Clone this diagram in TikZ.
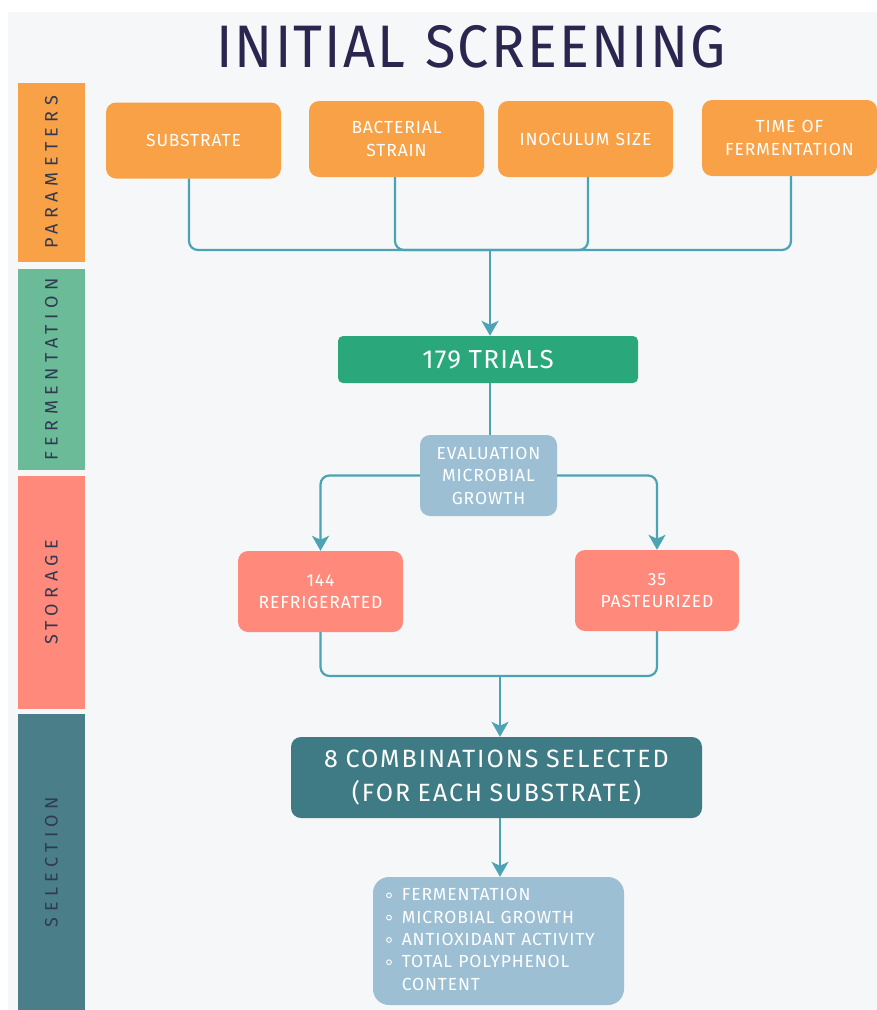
\documentclass[tikz,border=0pt]{standalone}
\usepackage{fontspec}
\setmainfont{Fira Sans}
\usetikzlibrary{arrows.meta}
\definecolor{bg}{HTML}{F6F7F8}
\definecolor{orangebox}{HTML}{F8A146}
\definecolor{greenbar}{HTML}{6CBB98}
\definecolor{greenbox}{HTML}{2AA87C}
\definecolor{salmon}{HTML}{FF8A7C}
\definecolor{tealbox}{HTML}{3F7B84}
\definecolor{tealbar}{HTML}{4A7F89}
\definecolor{lightblue}{HTML}{9CBFD4}
\definecolor{linecol}{HTML}{4BA3B3}
\definecolor{sidetext}{HTML}{2F3A52}
\definecolor{titlecol}{HTML}{2A2650}
\newcommand\mybul{\tikz[baseline=-0.6ex]\draw[white,line width=0.9pt](0,0)circle(2.4pt);}
\tikzset{
  sidebar/.style={rotate=90,minimum height=67pt,inner sep=0pt,text=sidetext,font=\fontsize{18}{20}\selectfont\addfontfeatures{LetterSpace=30}},
  box/.style={rounded corners=10pt,inner sep=0pt,text=white,align=center,font=\fontsize{17.5}{22.5}\selectfont\addfontfeatures{LetterSpace=5}},
  conn/.style={draw=linecol,line width=2.2pt,rounded corners=9pt},
  arr/.style={conn,-{Stealth[length=15pt,width=17pt,inset=4pt]}}
}
\begin{document}
\begin{tikzpicture}[x=1pt,y=-1pt]
\useasboundingbox (0,0) rectangle (877,1010);
\fill[white] (0,0) rectangle (877,1010);
\fill[bg] (8,12) rectangle (877,1010);
% title
\node[text=titlecol,font=\fontsize{60}{66}\selectfont\addfontfeatures{LetterSpace=4},xscale=0.93] (title) at (471,47) {INITIAL\hspace{0.35em}SCREENING};
% side bars
\node[sidebar,fill=orangebox,minimum width=179pt] (pbar) at (51.5,172.5) {PARAMETERS};
\node[sidebar,fill=greenbar,minimum width=201pt] (fbar) at (51.5,369.5) {FERMENTATION};
\node[sidebar,fill=salmon,minimum width=233pt] (sbar) at (51.5,592.5) {STORAGE};
\node[sidebar,fill=tealbar,minimum width=296pt] (selbar) at (51.5,862) {SELECTION};
% parameter boxes
\node[box,fill=orangebox,minimum width=175pt,minimum height=76pt] (sub) at (193.5,140.5) {SUBSTRATE};
\node[box,fill=orangebox,minimum width=175pt,minimum height=76pt] (bac) at (396.5,139) {BACTERIAL\\STRAIN};
\node[box,fill=orangebox,minimum width=175pt,minimum height=76pt] (ino) at (585.5,139) {INOCULUM\hspace{0.35em}SIZE};
\node[box,fill=orangebox,minimum width=175pt,minimum height=76pt] (time) at (789.5,138) {TIME\hspace{0.35em}OF\\FERMENTATION};
% trials
\node[box,fill=greenbox,rounded corners=5pt,minimum width=300pt,minimum height=47pt,font=\fontsize{26}{30}\selectfont\addfontfeatures{LetterSpace=5}] (trials) at (488,359.5) {179\hspace{0.3em}TRIALS};
% evaluation
\node[box,fill=lightblue,minimum width=137pt,minimum height=81pt] (eval) at (488.5,475.5) {EVALUATION\\MICROBIAL\\GROWTH};
% storage
\node[box,fill=salmon,minimum width=165pt,minimum height=81pt] (refr) at (320.5,591.5) {144\\REFRIGERATED};
\node[box,fill=salmon,minimum width=164pt,minimum height=81pt] (past) at (657,590.5) {35\\PASTEURIZED};
% selection
\node[box,fill=tealbox,minimum width=411pt,minimum height=81pt,font=\fontsize{25}{34}\selectfont\addfontfeatures{LetterSpace=8}] (comb) at (496.5,777.5) {8\hspace{0.3em}COMBINATIONS\hspace{0.3em}SELECTED\\(FOR\hspace{0.3em}EACH\hspace{0.3em}SUBSTRATE)};
\node[box,fill=lightblue,rounded corners=16pt,minimum width=251pt,minimum height=128pt,align=left,font=\fontsize{17.5}{22.3}\selectfont\addfontfeatures{LetterSpace=5}] (list) at (498.5,941) {\begin{tabular}{@{}l@{\hspace{10pt}}l@{}}
\mybul & FERMENTATION\\
\mybul & MICROBIAL\hspace{0.35em}GROWTH\\
\mybul & ANTIOXIDANT\hspace{0.35em}ACTIVITY\\
\mybul & TOTAL\hspace{0.35em}POLYPHENOL\\
 & CONTENT
\end{tabular}\hspace{16pt}};
% connectors
\coordinate (j1) at (490,250);
\draw[conn] (sub.south -| 189,0) |- (j1) -| (time.south -| 791,0);
\draw[conn] (bac.south -| 395,0) |- (j1);
\draw[conn] (ino.south -| 588,0) |- (j1);
\draw[arr] (j1) -- (trials.north -| j1);
\draw[conn] (trials.south -| 490,0) -- (eval.north -| 490,0);
\draw[arr] (eval.west) -| (refr.north);
\draw[arr] (eval.east) -| (past.north);
\coordinate (j2) at (500,676);
\draw[conn] (refr.south) |- (j2) -| (past.south);
\draw[arr] (j2) -- (comb.north -| j2);
\draw[arr] (comb.south -| j2) -- (list.north -| j2);
\end{tikzpicture}
\end{document}
